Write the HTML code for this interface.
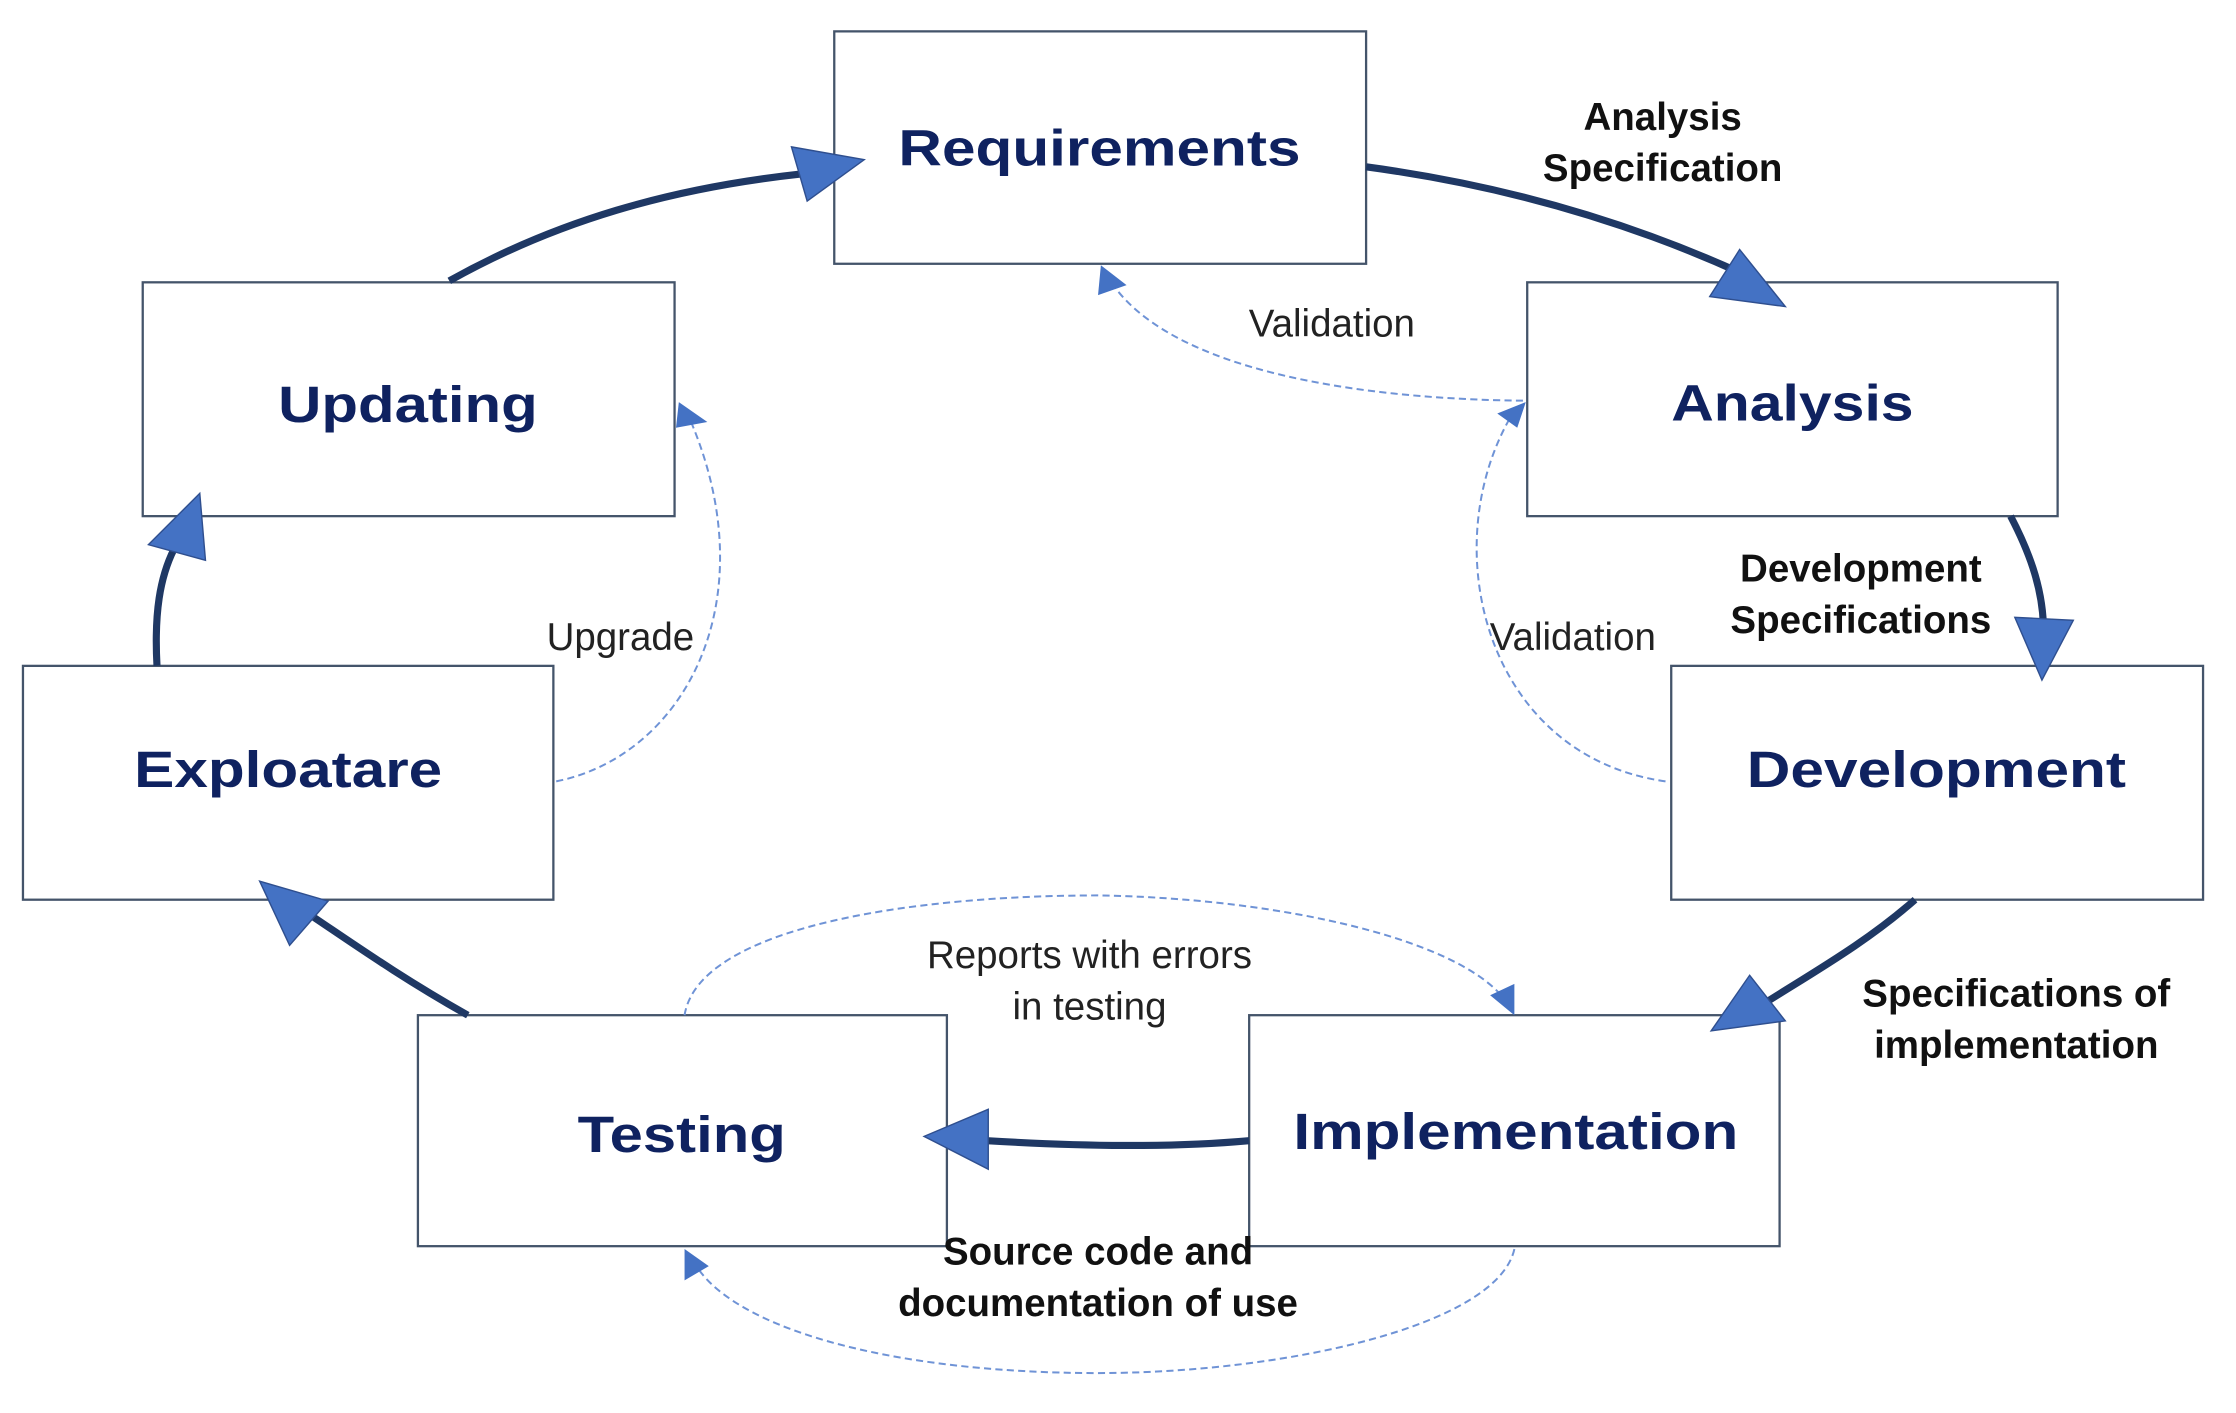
<!DOCTYPE html>
<html><head><meta charset="utf-8"><style>
html,body{margin:0;padding:0;background:#fff;}
svg{display:block;}
.box{fill:#fff;stroke:#44546a;stroke-width:1.6;}
.t{font-family:"Liberation Sans",Arial,sans-serif;font-weight:bold;fill:#0f2260;font-size:36px;text-anchor:middle;}
.lb{font-family:"Liberation Sans",Arial,sans-serif;font-weight:bold;fill:#111;font-size:27px;text-anchor:middle;}
.ln{font-family:"Liberation Sans",Arial,sans-serif;fill:#222;font-size:27px;text-anchor:middle;}
.thick{fill:none;stroke:#1f3864;stroke-width:5;}
.head{fill:#4472c4;stroke:#2f4f8f;stroke-width:1;}
.dash{fill:none;stroke:#6f93d6;stroke-width:1.4;stroke-dasharray:5 3;}
.sh{fill:#4472c4;}
</style></head><body>
<svg width="2236" height="1413" viewBox="0 0 1568 991" xmlns="http://www.w3.org/2000/svg">
<!-- boxes -->
<rect class="box" x="585" y="22" width="373" height="163"/>
<rect class="box" x="100" y="198" width="373" height="164"/>
<rect class="box" x="1071" y="198" width="372" height="164"/>
<rect class="box" x="16" y="467" width="372" height="164"/>
<rect class="box" x="1172" y="467" width="373" height="164"/>
<rect class="box" x="293" y="712" width="371" height="162"/>
<rect class="box" x="876" y="712" width="372" height="162"/>

<!-- thick arrows -->
<path class="thick" d="M315,197 C390,155 470,132 562,122"/>
<polygon class="head" points="555,103 606,112 566,141"/>
<path class="thick" d="M958,117 C1040,128 1130,150 1222,192"/>
<polygon class="head" points="1220,175 1252,215 1199,208"/>
<path class="thick" d="M1410,362 C1422,385 1432,410 1433,438"/>
<polygon class="head" points="1413,433 1454,435 1432,477"/>
<path class="thick" d="M1343,631 C1310,660 1275,680 1240,702"/>
<polygon class="head" points="1227,684 1252,716 1200,723"/>
<path class="thick" d="M876,800 C820,805 760,804 692,800"/>
<polygon class="head" points="693,778 648,797 693,820"/>
<path class="thick" d="M328,712 C280,685 245,660 215,640"/>
<polygon class="head" points="182,618 230,632 203,663"/>
<path class="thick" d="M110,467 C108,430 112,405 122,385"/>
<polygon class="head" points="140,346 104,382 144,393"/>

<!-- dashed arrows -->
<path class="dash" d="M1068,281 C960,280 820,262 778,196"/>
<polygon class="sh" points="772,186 770,207 790,200"/>
<path class="dash" d="M1168,548 C1040,530 1005,380 1062,288"/>
<polygon class="sh" points="1070,282 1050,290 1064,300"/>
<path class="dash" d="M390,548 C480,530 540,420 482,290"/>
<polygon class="sh" points="476,282 474,300 496,296"/>
<path class="dash" d="M480,712 C490,650 640,628 770,628 C900,630 1030,660 1058,705"/>
<polygon class="sh" points="1062,712 1045,698 1062,690"/>
<path class="dash" d="M1062,876 C1050,930 900,963 770,963 C620,963 510,930 486,884"/>
<polygon class="sh" points="480,876 480,898 497,888"/>

<!-- titles -->
<text class="t" x="771" y="116" textLength="282" lengthAdjust="spacingAndGlyphs">Requirements</text>
<text class="t" x="286" y="296" textLength="182" lengthAdjust="spacingAndGlyphs">Updating</text>
<text class="t" x="1257" y="295" textLength="170" lengthAdjust="spacingAndGlyphs">Analysis</text>
<text class="t" x="202" y="552" textLength="216" lengthAdjust="spacingAndGlyphs">Exploatare</text>
<text class="t" x="1358" y="552" textLength="266" lengthAdjust="spacingAndGlyphs">Development</text>
<text class="t" x="478" y="808" textLength="146" lengthAdjust="spacingAndGlyphs">Testing</text>
<text class="t" x="1063" y="806" textLength="312" lengthAdjust="spacingAndGlyphs">Implementation</text>

<!-- labels -->
<text class="lb" x="1166" y="91">Analysis</text>
<text class="lb" x="1166" y="127">Specification</text>
<text class="ln" x="934" y="236">Validation</text>
<text class="lb" x="1305" y="408">Development</text>
<text class="lb" x="1305" y="444">Specifications</text>
<text class="ln" x="1103" y="456">Validation</text>
<text class="ln" x="435" y="456">Upgrade</text>
<text class="ln" x="764" y="679">Reports with errors</text>
<text class="ln" x="764" y="715">in testing</text>
<text class="lb" x="1414" y="706">Specifications of</text>
<text class="lb" x="1414" y="742">implementation</text>
<text class="lb" x="770" y="887">Source code and</text>
<text class="lb" x="770" y="923">documentation of use</text>
</svg>
</body></html>
